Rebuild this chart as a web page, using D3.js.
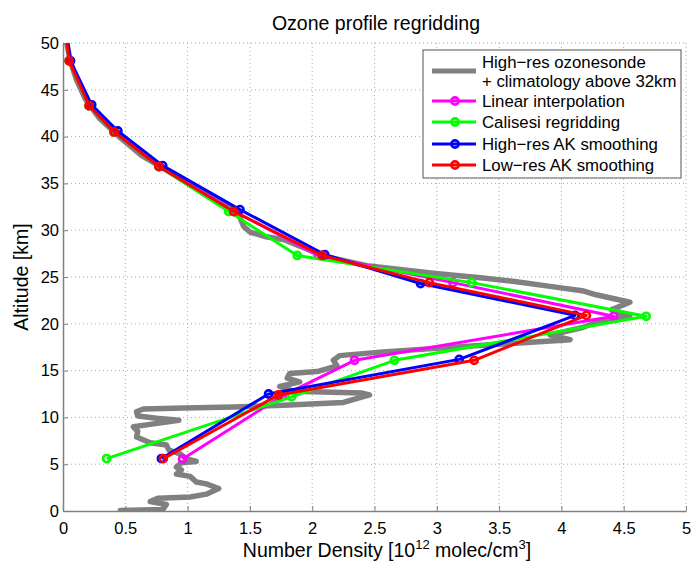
<!DOCTYPE html>
<html><head><meta charset="utf-8">
<script src="https://cdn.jsdelivr.net/npm/d3@7"></script>
<style>body{margin:0;background:#fff}</style>
</head><body><svg id="c" width="692" height="565"></svg>
<script>
// ---- data ----
const xTicks = [0, 0.5, 1, 1.5, 2, 2.5, 3, 3.5, 4, 4.5, 5];
const xTickLabels = ["0","0.5","1","1.5","2","2.5","3","3.5","4","4.5","5"];
const yTicks = [0, 5, 10, 15, 20, 25, 30, 35, 40, 45, 50];
const yTickLabels = ["0","5","10","15","20","25","30","35","40","45","50"];

// high-res ozonesonde + climatology (density, altitude)
const hiresDens = [0.46,0.80,0.83,0.70,0.76,1.02,1.15,1.25,1.15,1.07,1.02,0.91,0.95,0.91,0.95,1.07,0.99,0.94,0.85,0.83,0.70,0.59,0.60,0.565,0.67,0.93,0.75,0.60,0.59,0.645,0.97,1.37,1.77,2.25,2.46,2.40,1.85,1.74,1.90,1.80,1.82,2.04,2.20,2.17,2.22,2.57,3.37,4.07,3.91,4.17,4.31,4.55,4.40,4.55,4.28,4.18,3.91,3.64,3.37,2.97,2.44,2.10,1.77,1.63,1.50,1.45,1.40,1.12,0.88,0.63,0.45,0.29,0.18,0.11,0.06,0.03,0.01];
const hiresAlt  = [0.05,0.15,0.7,1.0,1.35,1.5,1.8,2.4,2.9,3.1,3.7,3.95,4.4,4.7,5.15,5.3,5.6,6.1,6.5,7.05,7.3,7.9,8.5,9.0,9.2,9.7,9.9,10.15,10.6,10.9,11.0,11.1,11.3,11.6,12.4,12.6,12.8,13.3,13.8,14.2,14.7,14.9,15.5,16.1,16.6,17.0,17.7,18.3,18.8,19.6,20.3,20.9,21.5,22.3,23.1,23.5,24.0,24.5,24.9,25.4,26.2,27.2,29.0,29.3,29.8,30.4,32.0,34,36,38,40,42,44,46,48,50,53];

const linAlt  = [53,48.1,43.3,40.5,36.8,32.0,27.3,24.4,20.8,16.1,12.3,5.55];
const linDens = [0.0,0.05,0.21,0.41,0.77,1.38,2.05,3.13,4.42,2.34,1.76,0.96];

const calAlt  = [53,48.1,43.3,40.5,36.8,32.0,27.3,24.4,20.8,16.1,12.2,5.6];
const calDens = [0.0,0.05,0.21,0.41,0.77,1.33,1.88,3.28,4.68,2.66,1.835,0.35];

const hakAlt  = [53,48.1,43.4,40.6,36.9,32.2,27.4,24.3,20.9,16.2,12.5,5.6];
const hakDens = [0.01,0.06,0.23,0.44,0.80,1.42,2.10,2.87,4.11,3.18,1.65,0.79];

const lakAlt  = [53,48.1,43.3,40.5,36.8,32.0,27.3,24.4,20.9,16.1,12.4,5.6];
const lakDens = [0.0,0.05,0.21,0.41,0.77,1.37,2.08,2.94,4.20,3.30,1.73,0.805];

const seriesNames = ["Linear interpolation","Calisesi regridding","High\u2212res AK smoothing","Low\u2212res AK smoothing"];
const seriesColors = ["#ff00ff","#00ff00","#0000ff","#ff0000"];

// ---- chart ----
const svg = d3.select("#c");
const font = "'Liberation Sans', Arial, Helvetica, sans-serif";
const L = 63, R = 686, T = 43, B = 511;
const x = d3.scaleLinear().domain([0,5]).range([L,R]);
const y = d3.scaleLinear().domain([0,50]).range([B,T]);

svg.append("defs").append("clipPath").attr("id","clip")
  .append("rect").attr("x",L).attr("y",T).attr("width",R-L).attr("height",B-T);

// grid
const grid = svg.append("g");
xTicks.forEach(t => { if (t>0) grid.append("line").attr("x1",x(t)).attr("x2",x(t)).attr("y1",T).attr("y2",B)
  .attr("stroke","#a8a8a8").attr("stroke-width",1).attr("stroke-dasharray","1,3"); });
yTicks.forEach(t => { if (t>0) grid.append("line").attr("x1",L).attr("x2",R).attr("y1",y(t)).attr("y2",y(t))
  .attr("stroke","#a8a8a8").attr("stroke-width",1).attr("stroke-dasharray","1,3"); });

// axes
const xAxis = d3.axisBottom(x).tickValues(xTicks).tickFormat((d,i)=>xTickLabels[i]).tickSizeInner(-5).tickSizeOuter(0).tickPadding(9);
const yAxis = d3.axisLeft(y).tickValues(yTicks).tickFormat((d,i)=>yTickLabels[i]).tickSizeInner(-5).tickSizeOuter(0).tickPadding(4);
const gx = svg.append("g").attr("transform",`translate(0,${B})`).call(xAxis);
const gy = svg.append("g").attr("transform",`translate(${L},0)`).call(yAxis);
[gx,gy].forEach(g=>{
  g.select(".domain").attr("stroke","#808080").attr("stroke-width",1.5);
  g.selectAll(".tick line").attr("stroke","#808080");
  g.selectAll(".tick text").attr("font-family",font).attr("font-size",16.5).attr("fill","#000");
});
gx.selectAll(".tick text").attr("dy","0.85em");

// data lines
const plot = svg.append("g").attr("clip-path","url(#clip)");
const line = d3.line().x(d=>x(d[0])).y(d=>y(d[1]));
const hires = hiresDens.map((v,i)=>[v,hiresAlt[i]]);
plot.append("path").attr("d",line(hires)).attr("fill","none").attr("stroke","#808080")
  .attr("stroke-width",5.5).attr("stroke-linejoin","round").attr("stroke-linecap","round");

const sets = [[linDens,linAlt],[calDens,calAlt],[hakDens,hakAlt],[lakDens,lakAlt]];
sets.forEach((s,k)=>{
  const pts = s[0].map((v,i)=>[v,s[1][i]]);
  plot.append("path").attr("d",line(pts)).attr("fill","none").attr("stroke",seriesColors[k])
    .attr("stroke-width",3).attr("stroke-linejoin","round");
  plot.selectAll(null).data(pts).enter().append("circle")
    .attr("cx",d=>x(d[0])).attr("cy",d=>y(d[1])).attr("r",3.6)
    .attr("fill","none").attr("stroke",seriesColors[k]).attr("stroke-width",2.6);
});

// title and labels
svg.append("text").attr("x",376).attr("y",30).attr("text-anchor","middle")
  .attr("font-family",font).attr("font-size",19.5).text("Ozone profile regridding");
const xl = svg.append("text").attr("x",387).attr("y",557).attr("text-anchor","middle")
  .attr("font-family",font).attr("font-size",19.5);
xl.append("tspan").text("Number Density [10");
xl.append("tspan").attr("font-size",13).attr("dy",-8).text("12");
xl.append("tspan").attr("dy",8).text(" molec/cm");
xl.append("tspan").attr("font-size",13).attr("dy",-8).text("3");
xl.append("tspan").attr("dy",8).text("]");
svg.append("text").attr("transform","translate(28,277) rotate(-90)").attr("text-anchor","middle")
  .attr("font-family",font).attr("font-size",19.5).text("Altitude [km]");

// legend
const lg = svg.append("g");
lg.append("rect").attr("x",423).attr("y",50).attr("width",258).attr("height",128)
  .attr("fill","#fff").attr("stroke","#555").attr("stroke-width",1);
lg.append("line").attr("x1",432).attr("x2",476).attr("y1",71).attr("y2",71)
  .attr("stroke","#808080").attr("stroke-width",5);
lg.append("text").attr("x",482).attr("y",68).attr("font-family",font).attr("font-size",16.8).text("High\u2212res ozonesonde");
lg.append("text").attr("x",482).attr("y",87).attr("font-family",font).attr("font-size",16.8).text("+ climatology above 32km");
const rowY = [101,122,144,165];
seriesNames.forEach((n,k)=>{
  lg.append("line").attr("x1",432).attr("x2",476).attr("y1",rowY[k]).attr("y2",rowY[k])
    .attr("stroke",seriesColors[k]).attr("stroke-width",3);
  lg.append("circle").attr("cx",455).attr("cy",rowY[k]).attr("r",3.6).attr("fill","none")
    .attr("stroke",seriesColors[k]).attr("stroke-width",2.6);
  lg.append("text").attr("x",482).attr("y",rowY[k]+6).attr("font-family",font).attr("font-size",16.8).text(n);
});
</script></body></html>
